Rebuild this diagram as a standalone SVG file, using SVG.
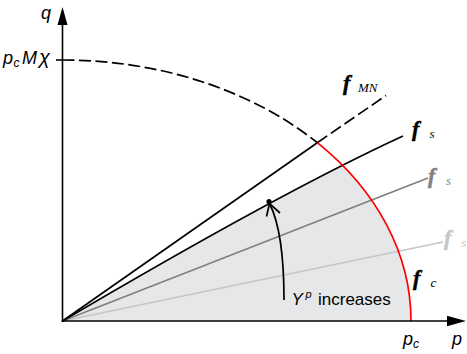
<svg xmlns="http://www.w3.org/2000/svg" width="467" height="354" viewBox="0 0 467 354">
  <style>
    .axis { stroke: #000; stroke-width: 1.6; fill: none; }
    .blk { stroke: #000; stroke-width: 1.7; fill: none; }
    .dash { stroke-dasharray: 12 4.5; }
    .lab { font-family: "Liberation Sans", Arial, sans-serif; font-style: italic; fill: #000; }
    .txt { font-family: "Liberation Sans", Arial, sans-serif; fill: #000; }
    .ff { font-family: "Liberation Serif", "DejaVu Serif", serif; font-style: italic; font-weight: bold; font-size: 22px; stroke-width: 0.5; }
    .sub { font-family: "Liberation Serif", "DejaVu Serif", serif; font-style: italic; font-weight: normal; font-size: 13px; }
  </style>
  <defs>
    <clipPath id="ellClip">
      <ellipse cx="62.5" cy="321" rx="348.5" ry="261"/>
    </clipPath>
  </defs>

  <g id="region">
    <path d="M62.5,321 Q280.7,192.3 403,136 L411,136 L411,321 Z" fill="#e6e7e8" clip-path="url(#ellClip)"/>
  </g>

  <g id="connectors">
    <line x1="62.5" y1="321" x2="443" y2="242" stroke="#c6c6c6" stroke-width="1.6"/>
    <line x1="62.5" y1="321" x2="428" y2="178" stroke="#7f7f7f" stroke-width="1.6"/>
    <path class="blk" d="M62.5,321 Q280.7,192.3 403,136"/>
    <line class="blk" x1="62.5" y1="321" x2="317.3" y2="142.7"/>
    <line class="blk dash" x1="317.3" y1="142.7" x2="386" y2="95.5"/>
    <path class="blk dash" d="M62.5,60 A348.5,261 0 0 1 317.3,142.7"/>
    <path d="M317.3,142.7 A348.5,261 0 0 1 411,321" stroke="#ff0000" stroke-width="1.7" fill="none"/>
    <path class="blk" d="M284,300 C284,262 281,226 269.5,203.5"/>
    <path class="blk" d="M266.5,216.5 L269.5,203.5 L280,213"/>
    <circle cx="269" cy="201.5" r="2.6" fill="#000"/>
  </g>

  <g id="axes">
    <line class="axis" x1="62.5" y1="322" x2="62.5" y2="24"/>
    <polygon points="62.5,7 57.5,25 67.5,25" fill="#000"/>
    <line class="axis" x1="61.7" y1="321" x2="448" y2="321"/>
    <polygon points="466,321 447,315.8 447,326.2" fill="#000"/>
    <line class="axis" x1="56" y1="60" x2="63" y2="60"/>
  </g>

  <g id="labels">
    <text class="lab" x="41" y="19" font-size="18">q</text>
    <text class="lab" x="3" y="64" font-size="18">p</text>
    <text class="txt" x="13.5" y="67" font-size="12" font-style="italic">c</text>
    <text class="lab" x="22" y="64" font-size="18">M</text>
    <text class="lab" x="39" y="64" font-size="20">χ</text>
    <text class="lab" x="403" y="345" font-size="18">p</text>
    <text class="txt" x="413" y="348" font-size="12" font-style="italic">c</text>
    <text class="lab" x="452" y="345" font-size="18">p</text>
    <text class="lab" x="291.5" y="305" font-size="17">Y</text>
    <text class="lab" x="305.5" y="297.5" font-size="11">p</text>
    <text class="txt" x="318" y="305" font-size="17">increases</text>
  </g>

  <g id="flabels">
    <text class="ff" x="343" y="90" fill="#000" stroke="#000">f</text>
    <text class="sub" x="358" y="92" fill="#000">MN</text>
    <text class="ff" x="412" y="136" fill="#000" stroke="#000">f</text>
    <text class="sub" x="429.5" y="138" fill="#000">s</text>
    <text class="ff" x="428" y="183" fill="#7f7f7f" stroke="#7f7f7f">f</text>
    <text class="sub" x="446" y="185" fill="#7f7f7f">s</text>
    <text class="ff" x="444" y="245" fill="#c6c6c6" stroke="#c6c6c6">f</text>
    <text class="sub" x="461" y="247" fill="#c6c6c6">s</text>
    <text class="ff" x="413" y="285" fill="#000" stroke="#000">f</text>
    <text class="sub" x="430.5" y="287" fill="#000">c</text>
  </g>
</svg>
